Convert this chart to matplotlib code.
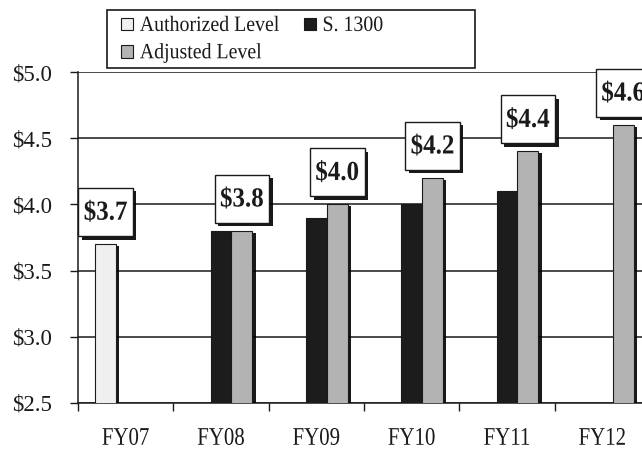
import numpy as np
import matplotlib

matplotlib.use("Agg")
import matplotlib.pyplot as plt
from matplotlib import patheffects
from matplotlib.patches import Patch, Rectangle
from matplotlib.path import Path
from matplotlib.transforms import Affine2D

plt.rcParams["font.family"] = ["Liberation Serif", "DejaVu Serif"]

years = ["FY07", "FY08", "FY09", "FY10", "FY11", "FY12"]
authorized = [3.7, None, None, None, None, None]
s1300 = [None, 3.8, 3.9, 4.0, 4.1, None]
adjusted = [None, 3.8, 4.0, 4.2, 4.4, 4.6]
y_ticks = [2.5, 3.0, 3.5, 4.0, 4.5, 5.0]

series = [
    ("Authorized Level", authorized, "#efefef", -0.21),
    ("S. 1300", s1300, "#1c1c1c", 0.0),
    ("Adjusted Level", adjusted, "#b3b3b3", 0.22),
]
BAR_W = 0.22
INK = "#1a1a1a"


class Stretch(patheffects.AbstractPathEffect):
    """Scale glyphs vertically about their baseline (tall, narrow type)."""

    def __init__(self, sy):
        super().__init__()
        self.sy = sy

    def draw_path(self, renderer, gc, tpath, affine, rgbFace=None):
        renderer.draw_path(gc, tpath, Affine2D().scale(1, self.sy) + affine, rgbFace)


def tall_box(x0, y0, width, height, mutation_size):
    # square box with more room above/below the text than at the sides
    px, pb, pt = 0.21 * mutation_size, 0.46 * mutation_size, 0.55 * mutation_size
    x0, x1 = x0 - px, x0 + width + px
    y0, y1 = y0 - pb, y0 + height + pt
    return Path([(x0, y0), (x1, y0), (x1, y1), (x0, y1), (x0, y0)], closed=True)


fig = plt.figure(figsize=(6.42, 4.49), dpi=100)
ax = fig.add_axes([78 / 642, 46 / 449, 572 / 642, 331 / 449])

shadow = [
    patheffects.SimplePatchShadow(offset=(2.2, -1.2), shadow_rgbFace="black", alpha=0.9),
    patheffects.Normal(),
]

for name, values, color, offset in series:
    xs = [i + offset for i, v in enumerate(values) if v is not None]
    hs = [v for v in values if v is not None]
    bars = ax.bar(xs, hs, width=BAR_W, color=color, edgecolor=INK, linewidth=0.8, zorder=3)
    for b in bars:
        b.set_path_effects(shadow)

# value box above the tallest bar of each year
for i in range(len(years)):
    if adjusted[i] is not None:
        val, xpos = adjusted[i], i + series[2][3]
    else:
        val, xpos = authorized[i], i + series[0][3]
    t = ax.annotate(
        f"\\${val:.1f}", (xpos, val), xytext=(0, 14), textcoords="offset points",
        ha="center", va="bottom", fontsize=18, fontweight="bold", color=INK,
        zorder=6, annotation_clip=False,
        bbox=dict(boxstyle=tall_box, fc="white", ec=INK, lw=1.0),
        path_effects=[Stretch(1.1)],
    )
    t.get_bbox_patch().set_path_effects([
        patheffects.SimplePatchShadow(offset=(2.5, -2.5), shadow_rgbFace="black", alpha=0.9),
        patheffects.Normal(),
    ])

ax.set_xlim(-0.5, len(years) - 0.5)
ax.set_ylim(y_ticks[0], y_ticks[-1])
ax.set_xticks(range(len(years)))
ax.set_xticklabels(years, fontsize=15, color=INK)
for lbl in ax.get_xticklabels():
    lbl.set_path_effects([Stretch(1.22)])
ax.set_xticks(np.arange(-0.5, len(years), 1.0), minor=True)
ax.tick_params(axis="x", which="major", length=0, pad=20)
ax.tick_params(axis="x", which="minor", length=6, width=1.0, direction="out", color=INK)
ax.set_yticks(y_ticks)
ax.set_yticklabels([f"\\${v:.1f}" for v in y_ticks], fontsize=16.5, color=INK)
ax.tick_params(axis="y", length=6, width=1.0, direction="out", pad=13, color=INK)

ax.grid(axis="y", color=INK, linewidth=1.1)
ax.set_axisbelow(True)
for side in ("top", "right"):
    ax.spines[side].set_visible(False)
for side in ("left", "bottom"):
    ax.spines[side].set_color(INK)
    ax.spines[side].set_linewidth(1.1)

handles = [Patch(facecolor=series[k][2], edgecolor=INK, linewidth=0.8) for k in (0, 2, 1)]
labels = [series[k][0] for k in (0, 2, 1)]
leg = fig.legend(
    handles, labels, loc="upper left", bbox_to_anchor=(111 / 642, 1 - 7 / 449),
    ncol=2, frameon=False, fontsize=14.3, handlelength=0.6, handleheight=0.6,
    handletextpad=0.35, columnspacing=1.2, labelspacing=0.42, borderpad=0.0,
    labelcolor=INK,
)
for txt in leg.get_texts():
    txt.set_path_effects([Stretch(1.1)])
fig.add_artist(Rectangle((107 / 642, 1 - 68 / 449), 368 / 642, 58 / 449,
                         transform=fig.transFigure, fill=False, edgecolor=INK, lw=1.2))

fig.savefig("out.png", dpi=100)
